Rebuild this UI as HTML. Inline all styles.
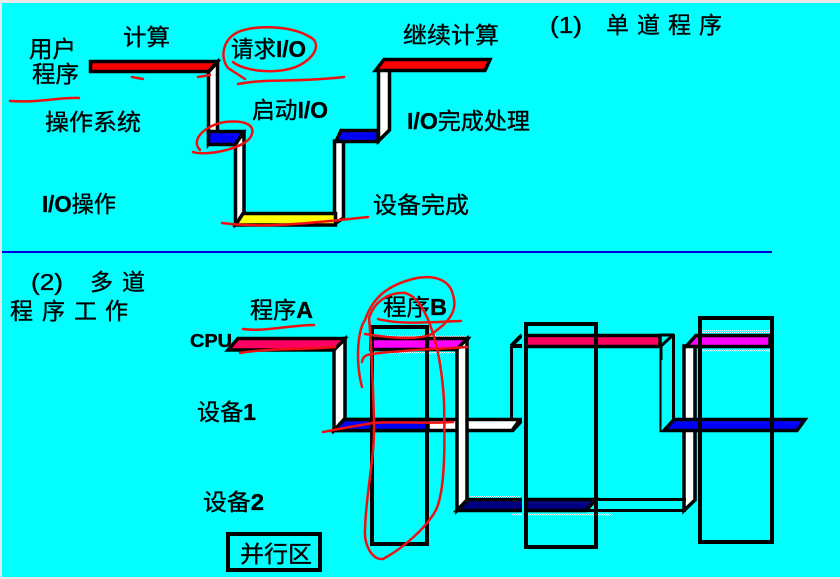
<!DOCTYPE html>
<html><head><meta charset="utf-8"><style>
html,body{margin:0;padding:0;background:#fff}
svg{display:block}
text{font-family:"Liberation Sans","WenQuanYi Zen Hei","Noto Sans CJK SC",sans-serif;font-size:23px;fill:#000;stroke:#000;stroke-width:.35px}
.b{font-weight:bold}
</style></head><body>
<svg width="840" height="579" viewBox="0 0 840 579" xmlns="http://www.w3.org/2000/svg">
<defs>
<pattern id="dw" width="2" height="2" patternUnits="userSpaceOnUse"><rect width="2" height="2" fill="#00ffff"/><rect width="1" height="1" fill="#fff"/><rect x="1" y="1" width="1" height="1" fill="#fff"/></pattern>
</defs>
<rect width="840" height="579" fill="#e8e8e8"/>
<rect x="2" y="3" width="838" height="574" fill="#00ffff"/>
<rect x="2" y="251" width="770" height="2" fill="#0000e0"/>

<!-- top diagram -->
<g stroke="#000" stroke-width="3.500" stroke-linejoin="miter">
<polygon points="208.500,72 217.500,62 217.500,132 208.500,144" fill="#fff"/>
<polygon points="235.500,142 244,134 244,214 235.500,224" fill="#fff"/>
<polygon points="334.500,141 343.500,141 343.500,218 334.500,224" fill="#fff"/>
<polygon points="378.500,70 389.500,70 389.500,130 378.500,141" fill="#fff"/>
<polygon points="90.500,61.500 217.500,61.500 208.500,71.500 90.500,71.500" fill="#ff0000"/>
<polygon points="208.500,131.500 243.500,131.500 235.500,144.500 208.500,144.500" fill="#0000ff"/>
<polygon points="243,213.500 335.500,213.500 335.500,225 235.500,225" fill="#ffff00"/>
<polygon points="341,130.500 378,130.500 378,141.500 336,141.500" fill="#0000ff"/>
<polygon points="384,59.500 490,59.500 485,70.500 375.500,70.500" fill="#ff0000"/>
</g>

<!-- bottom diagram -->
<rect x="373" y="335" width="92" height="2" fill="url(#dw)"/>
<rect x="373" y="352" width="90" height="2" fill="url(#dw)"/>
<rect x="470" y="496" width="50" height="2" fill="url(#dw)"/>
<rect x="512" y="513" width="100" height="3" fill="url(#dw)"/>
<rect x="702" y="330" width="68" height="3" fill="url(#dw)"/>
<rect x="702" y="349" width="68" height="3" fill="url(#dw)"/>
<g stroke="#000" stroke-width="3.500">
<polygon points="228,350 238,338.500 345,338.500 336,350" fill="#ff0060"/>
<polygon points="334,350 345,339 345,420 334,430.500" fill="#fff"/>
<polygon points="344,419.500 520,419.500 512,430.500 334,430.500" fill="#fff"/>
<polygon points="344,419.500 428,419.500 428,430.500 334,430.500" fill="#0000ff"/>
<polygon points="371,338.500 468,338.500 460,349.500 371,349.500" fill="#ff00ff"/>
<polygon points="457,349 467,339 467,500 457,510.500" fill="#fff"/>
<polygon points="468,499.500 596,499.500 586,510.500 457,510.500" fill="#000080"/>
<polygon points="684,346 695,346 695,500 684,510.500" fill="#fff"/>
<rect x="524" y="335.500" width="136" height="11" fill="#ff0060"/>
<polygon points="674,419.500 805,419.500 797,430.500 664,430.500" fill="#0000ff"/>
<polygon points="696,335.500 770,335.500 770,346.500 686,346.500" fill="#ff00ff"/>
</g>
<g fill="none" stroke="#000" stroke-width="3">
<path d="M586,499.500H686M586,510.500H686"/>
<path d="M511.500,346V420M673.500,334V419M661,345V360"/>
<path d="M660,335H674M661,346L673,335"/>
<path d="M511,346H524M511,346L522,335M512,431L522,420" stroke-width="4"/>
</g>
<path d="M660.500,360V432" stroke="#000" stroke-width="2" fill="none"/>
<rect x="522" y="330" width="2" height="190" fill="#00ffff"/>
<g fill="none" stroke="#000" stroke-width="4">
<rect x="372" y="327" width="55" height="217"/>
<rect x="526" y="324" width="70" height="223"/>
<rect x="700" y="318" width="72" height="224"/>
<rect x="228" y="534" width="92" height="36"/>
</g>

<!-- labels -->
<text x="29" y="57" textLength="47" lengthAdjust="spacingAndGlyphs">用户</text>
<text x="32" y="82" textLength="47" lengthAdjust="spacingAndGlyphs">程序</text>
<text x="123" y="45" textLength="47" lengthAdjust="spacingAndGlyphs">计算</text>
<text x="231" y="57" textLength="75" lengthAdjust="spacingAndGlyphs">请求<tspan class="b">I/O</tspan></text>
<text x="252" y="118" textLength="76" lengthAdjust="spacingAndGlyphs">启动<tspan class="b">I/O</tspan></text>
<text x="45" y="130" textLength="96" lengthAdjust="spacingAndGlyphs">操作系统</text>
<text x="42" y="212" textLength="74" lengthAdjust="spacingAndGlyphs"><tspan class="b">I/O</tspan>操作</text>
<text x="373" y="213" textLength="96" lengthAdjust="spacingAndGlyphs">设备完成</text>
<text x="407" y="129" textLength="123" lengthAdjust="spacingAndGlyphs"><tspan class="b">I/O</tspan>完成处理</text>
<text x="403" y="43" textLength="96" lengthAdjust="spacingAndGlyphs">继续计算</text>
<text x="550" y="33" textLength="32" lengthAdjust="spacingAndGlyphs">(1)</text>
<text x="606" y="33" textLength="116">单道程序</text>
<text x="31" y="290" textLength="32" lengthAdjust="spacingAndGlyphs">(2)</text>
<text x="90" y="290" textLength="55">多道</text>
<text x="10" y="319" textLength="55">程序</text>
<text x="74" y="319" textLength="54">工作</text>
<text x="250" y="318" textLength="63" lengthAdjust="spacingAndGlyphs">程序<tspan class="b">A</tspan></text>
<text x="383" y="315" textLength="64" lengthAdjust="spacingAndGlyphs">程序<tspan class="b">B</tspan></text>
<text x="190" y="347" textLength="42" lengthAdjust="spacingAndGlyphs" style="font-size:18px" class="b">CPU</text>
<text x="197" y="420" textLength="59" lengthAdjust="spacingAndGlyphs">设备<tspan class="b">1</tspan></text>
<text x="203" y="510" textLength="61" lengthAdjust="spacingAndGlyphs">设备<tspan class="b">2</tspan></text>
<text x="240" y="562" textLength="72" lengthAdjust="spacingAndGlyphs">并行区</text>

<!-- red annotations -->
<g fill="none" stroke="#f01010" stroke-width="2.500" stroke-linecap="round" stroke-linejoin="round">
<path d="M233,62C245,72 280,75 300,65C318,55 320,42 310,37C290,25 255,25 238,32C222,40 220,58 228,68L245,79"/>
<path d="M238,84C270,78 290,83 344,77"/>
<path d="M132,77L143,79M198,77L210,75"/>
<path d="M10,101C40,103 60,97 79,98"/>
<path d="M193,152C205,156 240,150 250,138C258,125 245,120 225,122C205,125 190,140 200,150"/>
<path d="M222,223C260,228 300,224 340,220L368,217"/>
<path d="M243,329C265,332 290,325 314,325"/>
<path d="M240,353C270,348 300,350 335,347"/>
<path d="M362,387C355,360 358,330 365,320C372,300 385,285 417,278C435,275 450,280 453,295C458,310 450,322 430,335C415,340 390,338 365,334"/>
<path d="M378,319C400,325 430,322 461,321"/>
<path d="M362,362C363,356 366,355 372,354C400,350 440,349 467,347"/>
<path d="M369,318C375,300 390,292 405,293C425,298 440,340 444,400C445,450 445,490 436,510C425,530 400,550 383,559C372,560 364,545 365,530C366,490 375,460 374,420C373,390 372,350 369,318Z"/>
<path d="M323,432C345,428 360,425 373,423C400,421 425,424 453,422"/>
</g>
</svg>
</body></html>
